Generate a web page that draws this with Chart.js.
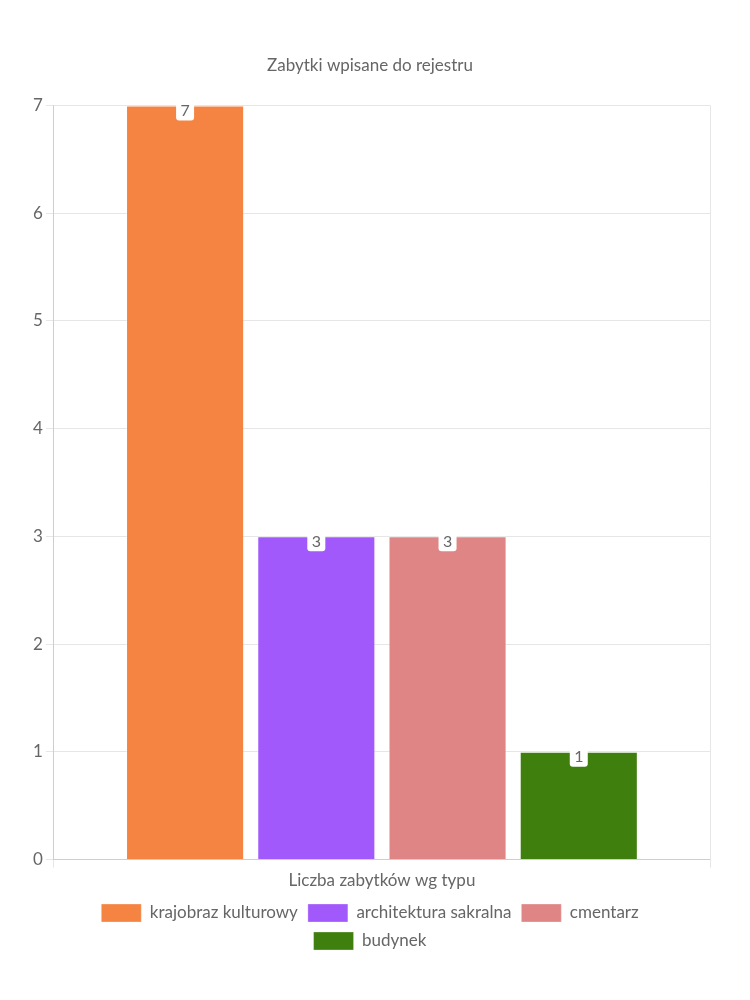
<!DOCTYPE html>
<html>
<head>
<meta charset="utf-8">
<script src="https://cdn.jsdelivr.net/npm/chart.js@4"></script>
<style>
body { margin: 0; background: #fff; }
#wrap { width: 750px; height: 1000px; }
</style>
</head>
<body>
<div id="wrap"><canvas id="c"></canvas></div>
<script>
var categories = ['Liczba zabytków wg typu'];
var seriesNames = ['krajobraz kulturowy', 'architektura sakralna', 'cmentarz', 'budynek'];
var seriesValues = [[7], [3], [3], [1]];
var colors = ['#f58342', '#a259fb', '#e08585', '#3f7f0e'];

Chart.defaults.font.family = 'Lato, sans-serif';
Chart.defaults.color = '#666';

// small white boxes with the value on top of each bar
var valueLabels = {
    id: 'valueLabels',
    afterDatasetsDraw: function(chart) {
        var ctx = chart.ctx;
        ctx.save();
        ctx.font = '16px Lato, sans-serif';
        ctx.textAlign = 'center';
        ctx.textBaseline = 'middle';
        chart.data.datasets.forEach(function(ds, i) {
            chart.getDatasetMeta(i).data.forEach(function(bar, j) {
                var cx = bar.x, cy = bar.y + 5;
                ctx.fillStyle = '#fff';
                ctx.beginPath();
                ctx.roundRect(cx - 9, cy - 10, 18, 20, 3);
                ctx.fill();
                ctx.fillStyle = '#666';
                ctx.fillText(ds.data[j], cx, cy);
            });
        });
        ctx.restore();
    }
};

var datasets = seriesNames.map(function(name, i) {
    return {
        label: name,
        data: seriesValues[i],
        backgroundColor: colors[i],
        borderColor: 'rgba(255,255,255,0.3)',
        borderWidth: 1
    };
});

new Chart(document.getElementById('c'), {
    type: 'bar',
    data: { labels: categories, datasets: datasets },
    plugins: [valueLabels],
    options: {
        responsive: true,
        maintainAspectRatio: false,
        animation: false,
        layout: { padding: { top: 55, right: 40, left: 30, bottom: 40 } },
        plugins: {
            title: {
                display: true,
                text: 'Zabytki wpisane do rejestru',
                font: { size: 17, weight: 'normal' },
                padding: { bottom: 30 }
            },
            legend: {
                position: 'bottom',
                labels: { boxWidth: 40, boxHeight: 18, font: { size: 17 }, padding: 10 }
            },
            tooltip: { enabled: false }
        },
        scales: {
            x: {
                ticks: { font: { size: 17 } },
                grid: { color: '#e6e6e6' }
            },
            y: {
                beginAtZero: true,
                max: 7,
                ticks: { stepSize: 1, font: { size: 17 } },
                grid: { color: '#e6e6e6' }
            }
        }
    }
});
</script>
</body>
</html>
